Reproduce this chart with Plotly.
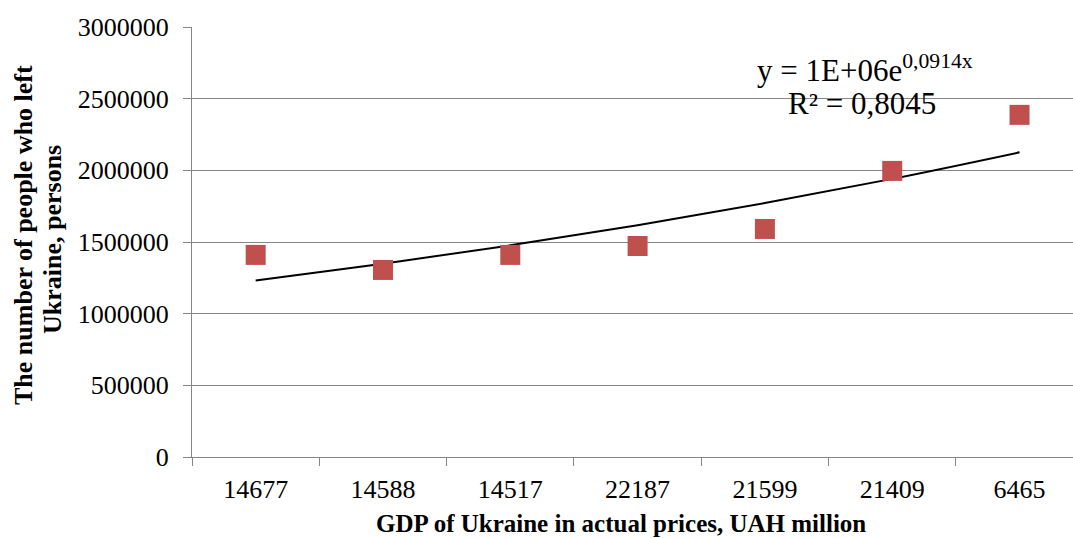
import numpy as np
import plotly.graph_objects as go

# GDP labels on the category axis (UAH million)
gdp_labels = ["14677", "14588", "14517", "22187", "21599", "21409", "6465"]
# number of people who left Ukraine
people_left = [1410000, 1305000, 1410000, 1472000, 1591000, 1996000, 2387000]

eq_line = "y = 1E+06e<sup>0,0914x</sup>"
r2_line = "R² = 0,8045"
ytitle_lines = ["The number of people who left", "Ukraine, persons"]

# exponential trendline y = a*exp(b*x), x = 1..n (like Excel)
idx = np.arange(1, len(people_left) + 1)
b, ln_a = np.polyfit(idx, np.log(people_left), 1)
trend = np.exp(ln_a) * np.exp(b * idx)

font_main = "Liberation Serif, Times New Roman, serif"
grid_col = "#868686"

fig = go.Figure()

fig.add_trace(go.Scatter(
    x=gdp_labels, y=trend,
    mode="lines",
    line=dict(color="black", width=2, shape="spline"),
    hoverinfo="skip",
    showlegend=False
))

fig.add_trace(go.Scatter(
    x=gdp_labels, y=people_left,
    mode="markers",
    marker=dict(symbol="square", size=20, color="#C0504D"),
    showlegend=False
))

fig.update_xaxes(
    type="category",
    range=[-0.5, 6.42],
    automargin=False,
    tickson="boundaries",
    ticks="outside", ticklen=8, tickcolor=grid_col,
    showline=True, linecolor=grid_col, linewidth=1,
    showgrid=False,
    tickfont=dict(family=font_main, size=26, color="black"),
    ticklabelstandoff=9,
)

fig.update_yaxes(
    range=[0, 3000000],
    automargin=False,
    tickvals=[0, 500000, 1000000, 1500000, 2000000, 2500000, 3000000],
    ticktext=["0", "500000", "1000000", "1500000", "2000000", "2500000", "3000000"],
    ticks="outside", ticklen=8, tickcolor=grid_col,
    showline=True, linecolor=grid_col, linewidth=1,
    showgrid=True, gridcolor=grid_col, gridwidth=1,
    zeroline=False,
    tickfont=dict(family=font_main, size=26, color="black"),
    ticklabelstandoff=9,
)

fig.update_layout(
    width=1073, height=538,
    margin=dict(l=192, r=0, t=27, b=81),
    plot_bgcolor="white", paper_bgcolor="white",
    annotations=[
        dict(text="<b>" + ytitle_lines[0] + "</b>",
             xref="paper", yref="paper", x=0, y=0.5,
             xshift=-169, yshift=7, textangle=-90,
             xanchor="center", yanchor="middle", showarrow=False,
             font=dict(family=font_main, size=26, color="black")),
        dict(text="<b>" + ytitle_lines[1] + "</b>",
             xref="paper", yref="paper", x=0, y=0.5,
             xshift=-140, yshift=2, textangle=-90,
             xanchor="center", yanchor="middle", showarrow=False,
             font=dict(family=font_main, size=26, color="black")),
        dict(text="<b>GDP of Ukraine in actual prices, UAH million</b>",
             xref="paper", yref="paper", x=0.487, y=0,
             yshift=-66, xanchor="center", yanchor="middle", showarrow=False,
             font=dict(family=font_main, size=25, color="black")),
        dict(text=eq_line,
             xref="paper", yref="paper", x=0.764, y=1,
             yshift=-41, xanchor="center", yanchor="middle", showarrow=False,
             font=dict(family=font_main, size=31, color="black")),
        dict(text=r2_line,
             xref="paper", yref="paper", x=0.760, y=1,
             yshift=-76, xanchor="center", yanchor="middle", showarrow=False,
             font=dict(family=font_main, size=31, color="black")),
    ],
)

fig.write_html("out.html", config={"displayModeBar": False},
               post_script="document.body.style.margin='0';")
